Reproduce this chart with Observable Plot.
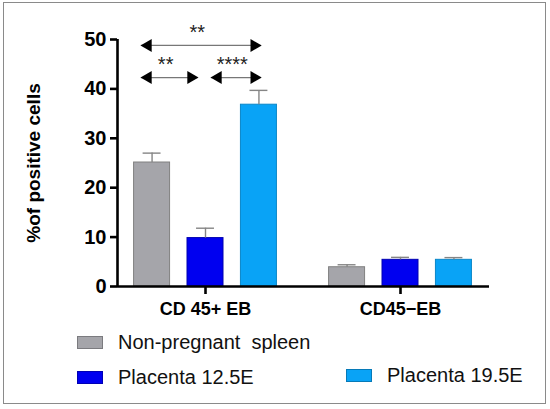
<!DOCTYPE html>
<html><head><meta charset="utf-8">
<script src="https://cdn.jsdelivr.net/npm/d3@7"></script>
<script src="https://cdn.jsdelivr.net/npm/@observablehq/plot@0.6"></script>
<style>
body{margin:0;width:550px;height:409px;position:relative;overflow:hidden;background:#fff;font-family:"Liberation Sans",Arial,sans-serif;}
#frame{position:absolute;left:3px;top:2px;width:541px;height:400px;border:1.5px solid #8a8a8a;}
#chart{position:absolute;left:0;top:0;}
.leg{position:absolute;display:flex;align-items:center;height:24px;font-size:20px;color:#111;white-space:pre;}
.sw{width:26px;height:13px;margin-right:15px;box-sizing:border-box;border:1px solid rgba(0,0,0,0.25);}
</style></head><body>
<div id="frame"></div><div id="chart"></div><div id="legend"></div>
<script>
const categories = ["CD 45+ EB", "CD45\u2212EB"];
const series = ["Non-pregnant  spleen", "Placenta 12.5E", "Placenta 19.5E"];
const colors = ["#a5a5aa", "#0000f0", "#09a3f6"];
const strokes = ["#808080", "#0000b0", "#0a86c8"];
const meanNonPregnant = [25.1, 3.9];
const meanP125 = [9.8, 5.4];
const meanP195 = [36.8, 5.4];
const semNonPregnant = [1.9, 0.5];
const semP125 = [2.0, 0.5];
const semP195 = [2.9, 0.45];
const yTicks = [0, 10, 20, 30, 40, 50];
const compFrom = [0, 0, 1];
const compTo = [2, 1, 2];
const compLevel = [48.8, 42.3, 42.3];
const compLabel = ["**", "**", "****"];

const means = [meanNonPregnant, meanP125, meanP195];
const sems = [semNonPregnant, semP125, semP195];

const X0 = 0.5487, X1 = 2.4564;
const off = 0.274, hw = 0.0923, capw = 0.046;
const bars = [];
categories.forEach((c, g) => {
  means.forEach((m, s) => bars.push({g, s, x: g + 1 + (s - 1) * off, v: m[g], e: sems[s][g]}));
});
const center = (s) => 1 + (s - 1) * off;
const comps = compFrom.map((f, i) => {
  const t = compTo[i];
  const a = center(f) + (f === 0 ? -0.055 : 0.03);
  const b = center(t) + (t === 1 ? -0.04 : 0.01);
  return {a, b, y: compLevel[i], label: compLabel[i]};
});
const headOff = 0.034;
const heads = [];
comps.forEach(c => {
  heads.push({x: c.a + headOff, y: c.y, rot: -90});
  heads.push({x: c.b - headOff, y: c.y, rot: 90});
});

const marks = [];
means.forEach((m, s) => {
  marks.push(Plot.rectY(bars.filter(d => d.s === s), {
    x1: d => d.x - hw, x2: d => d.x + hw, y1: 0, y2: "v",
    fill: colors[s], stroke: strokes[s], strokeWidth: 1
  }));
});
marks.push(
  Plot.ruleX(bars, {x: "x", y1: "v", y2: d => d.v + d.e, stroke: "#858585", strokeWidth: 1.4}),
  Plot.ruleY(bars, {y: d => d.v + d.e, x1: d => d.x - capw, x2: d => d.x + capw, stroke: "#858585", strokeWidth: 1.4}),
  Plot.ruleY([0], {x1: X0, x2: X1, stroke: "#000", strokeWidth: 2.6}),
  Plot.ruleX([X0], {y1: 0, y2: 50, stroke: "#000", strokeWidth: 2.6}),
  Plot.axisY({ticks: yTicks, tickSize: 7, tickPadding: 4, fontSize: 20, fontWeight: "bold", strokeWidth: 2.6, label: null}),
  Plot.axisX({ticks: [1, 2], tickFormat: d => categories[d - 1], tickSize: 8, tickPadding: 8, fontSize: 18, fontWeight: "bold", strokeWidth: 2.6, label: null}),
  Plot.text(["%of positive cells"], {x: X0, y: 25, rotate: -90, dx: -84, fontSize: 19, fontWeight: "bold", fill: "#000"}),
  Plot.ruleY(comps, {y: "y", x1: "a", x2: "b", stroke: "#777", strokeWidth: 1.3}),
  Plot.dot(heads, {x: "x", y: "y", symbol: "triangle", rotate: "rot", r: 4.8, fill: "#000", stroke: null}),
  Plot.text(comps, {x: d => (d.a + d.b) / 2 - 0.02, y: "y", text: "label", dy: -13, fontSize: 20, fill: "#222", lineAnchor: "middle"})
);

const chart = Plot.plot({
  width: 550, height: 330,
  marginLeft: 117, marginRight: 61, marginTop: 39, marginBottom: 44,
  x: {domain: [X0, X1], axis: null},
  y: {domain: [0, 50], axis: null},
  style: {fontFamily: "'Liberation Sans', Arial, sans-serif", background: "transparent", color: "#000"},
  marks
});
document.getElementById("chart").appendChild(chart);

const legendPos = [[77, 330], [77, 365], [346, 363]];
const legend = document.getElementById("legend");
series.forEach((name, i) => {
  const el = document.createElement("div");
  el.className = "leg";
  el.style.left = legendPos[i][0] + "px";
  el.style.top = legendPos[i][1] + "px";
  el.innerHTML = `<span class="sw" style="background:${colors[i]}"></span><span>${name}</span>`;
  legend.appendChild(el);
});
</script>
</body></html>
